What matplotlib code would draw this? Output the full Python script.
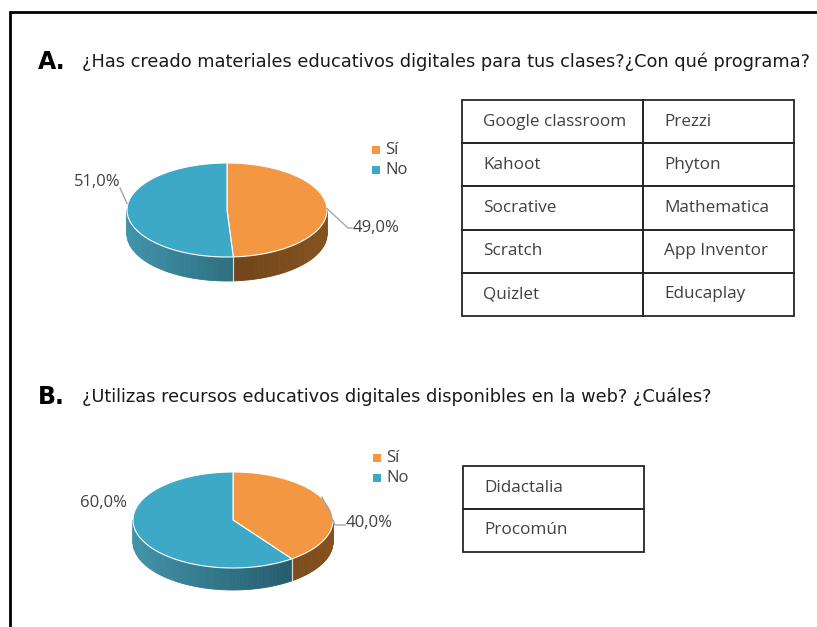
import matplotlib
matplotlib.use('Agg')
import matplotlib.pyplot as plt
from matplotlib.patches import Polygon, Rectangle
from matplotlib.colors import to_rgb
import numpy as np

plt.rcParams['font.family'] = ['Open Sans', 'DejaVu Sans']

# data
answers = ['Sí', 'No']
pct_a = [49.0, 51.0]
pct_b = [40.0, 60.0]
title_a = '¿Has creado materiales educativos digitales para tus clases?¿Con qué programa?'
title_b = '¿Utilizas recursos educativos digitales disponibles en la web? ¿Cuáles?'
programs_left = ['Google classroom', 'Kahoot', 'Socrative', 'Scratch', 'Quizlet']
programs_right = ['Prezzi', 'Phyton', 'Mathematica', 'App Inventor', 'Educaplay']
web_resources = ['Didactalia', 'Procomún']

top_colors = ['#F39743', '#3EA9C6']
side_colors = [('#5A3414', '#85521F'), ('#4193A9', '#1D4E5D')]
text_col = '#404040'

W, H = 817, 627
fig = plt.figure(figsize=(W / 100, H / 100), dpi=100)
ax = fig.add_axes([0, 0, 1, 1])
ax.set_xlim(0, W)
ax.set_ylim(H, 0)
ax.axis('off')


def mix(c0, c1, t):
    a, b = np.array(to_rgb(c0)), np.array(to_rgb(c1))
    return tuple(a + (b - a) * t)


def pie3d(values, cx, cy, rx, ry, depth):
    total = float(sum(values))
    edges = np.concatenate([[0], np.cumsum(values)]) / total * 360.0
    pt = lambda th: (cx + rx * np.sin(np.radians(th)), cy - ry * np.cos(np.radians(th)))
    # side walls (front half only)
    for i in range(len(values)):
        s0, s1 = max(edges[i], 90), min(edges[i + 1], 270)
        if s1 <= s0:
            continue
        th = np.linspace(s0, s1, 60)
        for k in range(len(th) - 1):
            x0, y0 = pt(th[k])
            x1, y1 = pt(th[k + 1])
            t = ((x0 + x1) / 2 - (cx - rx)) / (2 * rx)
            col = mix(side_colors[i][0], side_colors[i][1], t)
            ax.add_patch(Polygon([(x0, y0), (x1, y1), (x1, y1 + depth), (x0, y0 + depth)],
                                 closed=True, facecolor=col, edgecolor=col, lw=0.6))
        for e in (s0, s1):
            if 90 < e < 270:
                x, y = pt(e)
                ax.plot([x, x], [y, y + depth], color='#d9d9d9', lw=0.8)
    # top face
    for i in range(len(values)):
        th = np.linspace(edges[i], edges[i + 1], 120)
        pts = [(cx, cy)] + [pt(t) for t in th]
        ax.add_patch(Polygon(pts, closed=True, facecolor=top_colors[i],
                             edgecolor='white', lw=0.8))
    mids = (edges[:-1] + edges[1:]) / 2
    return [pt(m) for m in mids]


def legend(x, y):
    for i, lab in enumerate(answers):
        ax.add_patch(Rectangle((x - 4, y + i * 20 - 4), 8, 8, facecolor=top_colors[i], edgecolor='none'))
        ax.text(x + 9, y + i * 20, lab, fontsize=12, color=text_col, va='center', ha='left')


def fmt(v):
    return ('%.1f%%' % v).replace('.', ',')


def table(cells, x0, y0, col_ws, row_h):
    for r, row in enumerate(cells):
        x = x0
        for c, txt in enumerate(row):
            ax.add_patch(Rectangle((x, y0 + r * row_h), col_ws[c], row_h,
                                   facecolor='none', edgecolor='#262626', lw=1.3))
            ax.text(x + 21, y0 + (r + 0.5) * row_h, txt,
                    fontsize=12.3, color=text_col, va='center', ha='left')
            x += col_ws[c]


# frame
ax.plot([10, 10, W + 5], [H + 5, 12, 12], color='black', lw=2, solid_joinstyle='miter')

title_font = dict(fontsize=12.8, va='center', ha='left', color='#1a1a1a', family='DejaVu Sans')

# section A
ax.text(38, 62, 'A.', fontsize=17, fontweight='bold', va='center', ha='left', family='DejaVu Sans')
ax.text(82, 62, title_a, **title_font)
mid_a = pie3d(pct_a, 227, 210, 100, 47, 24)
legend(376, 150)
ax.plot([mid_a[0][0], 348, 352], [mid_a[0][1], 228, 228], color='#a6a6a6', lw=1)
ax.text(353, 228, fmt(pct_a[0]), fontsize=12, color=text_col, va='center', ha='left')
ax.plot([mid_a[1][0], 120], [mid_a[1][1] - 8, 188], color='#a6a6a6', lw=1)
ax.text(121, 182, fmt(pct_a[1]), fontsize=12, color=text_col, va='center', ha='right')
table(list(zip(programs_left, programs_right)), 462, 100, [181, 151], 43.2)

# section B
ax.text(38, 397, 'B.', fontsize=17, fontweight='bold', va='center', ha='left', family='DejaVu Sans')
ax.text(82, 397, title_b, **title_font)
mid_b = pie3d(pct_b, 233, 520, 100, 48, 22)
legend(377, 458)
ax.plot([mid_b[0][0] - 6, 335, 345], [mid_b[0][1] - 8, 525, 525], color='#a6a6a6', lw=1)
ax.text(346, 523, fmt(pct_b[0]), fontsize=12, color=text_col, va='center', ha='left')
ax.text(127, 503, fmt(pct_b[1]), fontsize=12, color=text_col, va='center', ha='right')
table([[w] for w in web_resources], 463, 466, [181], 43)

fig.savefig('out.png', dpi=100)
